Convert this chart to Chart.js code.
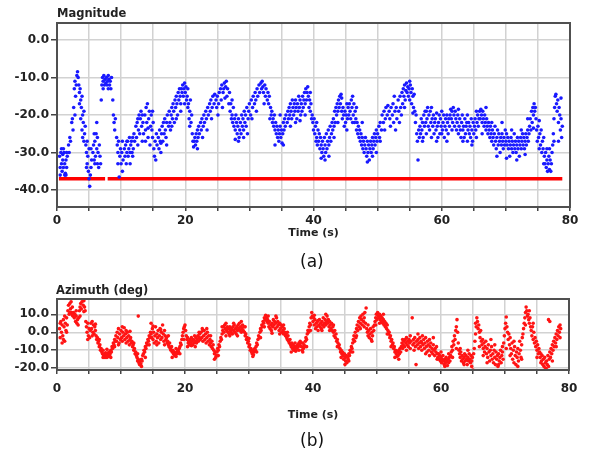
<!DOCTYPE html>
<html>
<head>
<meta charset="utf-8">
<script src="https://cdn.jsdelivr.net/npm/chart.js@4.4.0/dist/chart.umd.min.js"></script>
<style>
body { margin:0; background:#fff; width:591px; height:454px; position:relative; overflow:hidden; font-family:"DejaVu Sans", sans-serif; }
canvas { position:absolute; left:0; }
#magChart { top:0; }
#aziChart { top:270px; }
.lbl { position:absolute; font-weight:bold; font-size:11.5px; color:#222; line-height:1; }
.cap { position:absolute; font-size:17px; color:#111; line-height:1; }
</style>
</head>
<body>
<canvas id="magChart" width="591" height="245"></canvas>
<canvas id="aziChart" width="591" height="160"></canvas>
<div class="lbl" style="left:57px;top:8px">Magnitude</div>
<div class="lbl" style="left:56px;top:285px">Azimuth (deg)</div>
<div class="cap" style="left:300px;top:253px">(a)</div>
<div class="cap" style="left:300px;top:432px">(b)</div>
<script>
// time axis (s)
let timeLabels = [0, 20, 40, 60, 80];
let magTicks = [0, -10, -20, -30, -40];
let aziTicks = [10, 0, -10, -20];

// red reference level on the magnitude plot
let thresholdLevel = -37;
let thresholdSpans = [[0.3, 7.5], [7.9, 78.8]];

// magnitude samples [time, value]
let magPoints = [
  [0.4,-31],[0.5,-34],[0.6,-30],[0.7,-33],[0.8,-35],[0.9,-32],[1.0,-34],[1.1,-30],[1.2,-33],[1.3,-35.5],[1.4,-32],[1.5,-34],[1.6,-31],[0.7,-29],[1.2,-36],[1.5,-30],
  [1.8,-28],[1.9,-30],[2.0,-26],[2.1,-27],[2.3,-22],[2.4,-21],[2.5,-24],
  [2.6,-18],[2.7,-13],[2.8,-11],[2.9,-15],[3.0,-12],[3.1,-9.5],[3.2,-8.5],[3.3,-10],[3.4,-12],[2.8,-20],
  [3.5,-14],[3.6,-13],[3.7,-16],[3.8,-18],[3.9,-15],[4.0,-20],[4.1,-22],[4.2,-19],[4.3,-25],[4.4,-23],[3.7,-21],[4.0,-26],
  [4.5,-28],[4.6,-30],[4.7,-33],[4.8,-31],[4.9,-35],[5.0,-37],[5.1,-39],[5.2,-36],[5.3,-34],[5.4,-32],[4.7,-27],[5.0,-29],
  [5.6,-30],[5.7,-28],[5.8,-32],[5.9,-27],[6.0,-31],[6.1,-25],[6.2,-29],[6.3,-33],[6.4,-30],[6.5,-34],[6.6,-28],[5.8,-25],[6.2,-22],
  [6.8,-33],[6.9,-16],[7.0,-12],[7.1,-10],[7.2,-11],[7.3,-9.5],[7.4,-12],[7.5,-10.5],[7.6,-11.5],[7.7,-10],[7.8,-12],[7.9,-11],[8.0,-9.5],[8.1,-10.5],[8.2,-12],[8.3,-11],[8.4,-13],[8.5,-10],[7.2,-13],[8.0,-13],
  [8.7,-16],[8.8,-20],[8.9,-22],[9.0,-24],[9.1,-21],
  [9.3,-26],[9.4,-28],[9.5,-30],[9.6,-27],[9.7,-36.5],[9.8,-31],[9.9,-29],[10.0,-33],[10.1,-30],[10.2,-27],[10.3,-32],
  [10.5,-29],[10.6,-31],[10.7,-28],[10.8,-33],[10.9,-30],[11.0,-27],[11.1,-31],[11.2,-29],[11.3,-26],[11.4,-30],[11.5,-28],[11.6,-27],[11.7,-30],[11.8,-26],[11.9,-29],[12.0,-25],[12.1,-27],
  [12.3,-23],[12.4,-26],[12.5,-22],[12.6,-28],[12.7,-24],[12.8,-20],[12.9,-25],[13.0,-21],[13.1,-19],[13.2,-23],[13.3,-27],[13.4,-22],[13.5,-25],
  [13.7,-20],[13.8,-24],[13.9,-18],[14.0,-22],[14.1,-17],[14.2,-26],[14.3,-21],[14.4,-19],[14.5,-28],[14.6,-23],[14.7,-20],[14.8,-24],
  [14.9,-19],[15.0,-22],[15.1,-29],[15.2,-31],[15.3,-27],[15.4,-32],[15.5,-25],[15.6,-28],
  [15.8,-26],[15.9,-29],[16.0,-24],[16.1,-27],[16.2,-30],[16.3,-25],[16.4,-23],[16.5,-27],[16.6,-22],[16.7,-25],[16.8,-21],[16.9,-24],[17.0,-26],[17.1,-22],[17.2,-20],
  [17.4,-23],[17.5,-19],[17.6,-22],[17.7,-24],[17.8,-20],[17.9,-18],[18.0,-21],[18.1,-17],[18.2,-19],[18.3,-22],[18.4,-16],[18.5,-18],[18.6,-15],[18.7,-17],[18.8,-20],[18.9,-14],[19.0,-16],[19.1,-13],[19.2,-15],[19.3,-17],[19.4,-13],[19.5,-14],[19.6,-12],[19.7,-15],[19.8,-13],[19.9,-11.5],[20.0,-14],[20.1,-12.5],[20.2,-16],
  [20.3,-15],[20.4,-18],[20.5,-17],[20.6,-21],[20.7,-19],[20.8,-16],[20.9,-22],[21.0,-20],[21.1,-25],[21.2,-27],[21.3,-28.5],
  [21.4,-27],[21.5,-26],[21.6,-28],[21.7,-25],[21.8,-27],[21.9,-24],[22.0,-26],[22.1,-23],[22.2,-25],[22.4,-22],[22.5,-24],[22.6,-21],[22.8,-23],[22.9,-20],[23.0,-22],[23.2,-19],[23.3,-21],[23.5,-18],[23.6,-20],[23.8,-17],[23.9,-19],
  [24.0,-16],[24.2,-18],[24.3,-15],[24.5,-17],[24.6,-14.5],[24.8,-16],[24.9,-18],[25.0,-15],[25.2,-17],[25.3,-14],
  [25.5,-13],[25.6,-16],[25.7,-12],[25.9,-14],[26.0,-13],[26.1,-11.5],[26.3,-12.5],[26.4,-11],[26.5,-15],[26.6,-13],[26.8,-17],[26.9,-14],
  [27.0,-19],[27.1,-17],[27.2,-21],[27.3,-20],[27.4,-22],[27.5,-18],[27.6,-23],[27.7,-21],[27.8,-24],[27.9,-20],[28.0,-22],[28.1,-25],[28.2,-23],[28.3,-21],[28.4,-26],[28.5,-24],[28.6,-22],[28.7,-25],[28.8,-20],[28.9,-23],[29.0,-21],[29.1,-24],[29.2,-19],[29.3,-22],[29.4,-20],[29.5,-23],[29.6,-18],[29.8,-21],[29.9,-19],
  [30.0,-17],[30.2,-20],[30.3,-16],[30.5,-18],[30.6,-15],[30.8,-17],[30.9,-14],[31.0,-16],[31.2,-13],[31.3,-15],[31.5,-12],[31.6,-14],
  [31.8,-11.5],[31.9,-13],[32.0,-11],[32.1,-12.5],[32.2,-14],[32.4,-12],[32.5,-15],[32.6,-13],[32.8,-16],[32.9,-14],[33.0,-17],[33.1,-15],
  [33.3,-18],[33.4,-20],[33.5,-19],[33.6,-22],[33.7,-21],[33.8,-23],[33.9,-20],[34.0,-24],[34.1,-22],[34.2,-25],[34.3,-23],[34.4,-26],[34.5,-24],[34.6,-27],[34.7,-25],[34.8,-23],[34.9,-26],[35.0,-24],[35.1,-27.5],[35.2,-25],[35.3,-22],[35.4,-24],[35.5,-21],[35.6,-23],[35.7,-20],
  [35.9,-22],[36.0,-19],[36.1,-21],[36.2,-18],[36.3,-20],[36.4,-17],[36.5,-19],[36.6,-21],[36.7,-16],[36.8,-18],[36.9,-20],[37.0,-17],[37.1,-19],[37.2,-16],[37.3,-18],[37.4,-21],[37.5,-17],[37.6,-19],[37.7,-15],[37.8,-18],[37.9,-16],[38.0,-20],[38.1,-17],[38.2,-19],[38.3,-15],[38.4,-18],[38.5,-16],[38.6,-14],[38.7,-17],[38.8,-13],[38.9,-16],[39.0,-14],[39.1,-12.5],[39.2,-15],[39.3,-18],[39.4,-16],
  [39.5,-19],[39.6,-17],[39.7,-21],[39.8,-20],[39.9,-22],[40.0,-24],[40.1,-21],[40.2,-25],[40.3,-23],[40.4,-27],[40.5,-26],[40.6,-28],[40.7,-24],[40.8,-27],[40.9,-25],[41.0,-29],[41.1,-26],[41.2,-28],
  [41.3,-30],[41.4,-27],[41.5,-29],[41.6,-31],[41.7,-26],[41.8,-28],[41.9,-30],[42.0,-25],[42.1,-29],[42.2,-27],[42.3,-24],[42.4,-28],[42.5,-26],[42.6,-23],[42.7,-27],[42.8,-25],[41.8,-32],
  [42.9,-22],[43.0,-24],[43.1,-21],[43.2,-23],[43.3,-19],[43.4,-22],[43.5,-18],[43.6,-20],[43.7,-17],[43.8,-19],[43.9,-16],[44.0,-18],[44.1,-15],[44.2,-17],[44.3,-14.5],[44.4,-19],
  [44.5,-21],[44.6,-18],[44.7,-20],[44.8,-23],[44.9,-19],[45.0,-22],[45.1,-20],[45.2,-24],[45.3,-21],[45.4,-18],[45.5,-20],[45.6,-17],[45.7,-19],[45.8,-21],[45.9,-16],[46.0,-18],[46.1,-15],[46.2,-20],[46.3,-17],[46.4,-22],[46.5,-19],[46.6,-21],[46.7,-24],[46.8,-22],
  [46.9,-25],[47.0,-23],[47.1,-26],[47.2,-24],[47.3,-27],[47.4,-25],[47.5,-28],[47.6,-26],[47.7,-29],[47.8,-27],[47.9,-30],[48.0,-28],[48.1,-26],[48.2,-29],[48.3,-31],[48.4,-27],[48.5,-30],[48.6,-28],[48.7,-32],[48.8,-29],[48.9,-27],[49.0,-30],[49.1,-28],[49.2,-26],[49.3,-29],[49.4,-27],[49.5,-25],[49.6,-28],[49.7,-26],[49.8,-24],[49.9,-27],
  [50.0,-25],[50.2,-23],[50.3,-26],[50.4,-22],[50.6,-24],[50.7,-20],[50.9,-22],[51.0,-19],[51.2,-21],[51.3,-18],[51.5,-20],[51.6,-17.5],[51.8,-19],[51.9,-21],[52.1,-18],
  [52.3,-20],[52.4,-17],[52.5,-22],[52.7,-19],[52.8,-24],[52.9,-18],[53.0,-21],[53.2,-16],[53.3,-19],[53.5,-15],[53.6,-18],[53.7,-20],
  [53.8,-14],[53.9,-17],[54.0,-13],[54.1,-15],[54.2,-12],[54.3,-16],[54.4,-13.5],[54.5,-11.5],[54.6,-14],[54.7,-12.5],[54.8,-15],[54.9,-13],[55.0,-16],[55.1,-12],[55.2,-14],[55.3,-17],[55.4,-13],[55.5,-15],[55.6,-18],[55.7,-14.5],
  [55.8,-19],[55.9,-22],[56.0,-20],[56.1,-25],[56.2,-27],[56.3,-32],[56.4,-24],[56.5,-26],
  [56.6,-23],[56.7,-25],[56.8,-21],[56.9,-24],[57.0,-22],[57.1,-26],[57.2,-20],[57.3,-23],[57.4,-19],[57.5,-22],[57.6,-25],[57.7,-21],[57.8,-18],[57.9,-23],[58.0,-20],[58.1,-24],[58.2,-19],[58.3,-22],[58.4,-26],[58.5,-21],[58.6,-23],[58.7,-20],[58.8,-25],[58.9,-22],
  [59.0,-21],[59.1,-24],[59.2,-19.5],[59.3,-23],[59.4,-26],[59.5,-22],[59.6,-20],[59.7,-25],[59.8,-21],[59.9,-23],[60.0,-19],[60.1,-24],[60.2,-22],[60.3,-20],[60.4,-26],[60.5,-23],[60.6,-21],[60.7,-24],[60.8,-20],[60.9,-22],[61.0,-25],[61.1,-21],[61.2,-23],
  [61.3,-20],[61.4,-18.5],[61.5,-21],[61.6,-19],[61.7,-22],[61.8,-18],[61.9,-20],[62.0,-23],[62.1,-19],[62.2,-21],
  [62.3,-24],[62.4,-22],[62.5,-20],[62.6,-25],[62.7,-23],[62.8,-21],[62.9,-24],[63.0,-26],[63.1,-22],[63.2,-20],[63.3,-24],[63.4,-23],[63.5,-26],[63.6,-21],[63.7,-25],[63.8,-23],[63.9,-22],[64.0,-27],[64.1,-24],[64.2,-22],[64.3,-25],[64.4,-23],[64.5,-26],[64.6,-21],[64.7,-24],[64.8,-27],[64.9,-22],[65.0,-25],[65.1,-23],[65.2,-21],[65.3,-24],[65.4,-26],[65.5,-22],[65.6,-20],[65.7,-23],[65.8,-21],
  [65.9,-19],[66.0,-21],[66.1,-18.5],[66.2,-20],[66.3,-22],[66.4,-19],[66.5,-21],[66.6,-23],[66.7,-20],[66.8,-22],[66.9,-24],[67.0,-21],[67.1,-23],[67.2,-25],[67.3,-22],[67.4,-24],
  [67.5,-26],[67.6,-23],[67.7,-25],[67.8,-27],[67.9,-24],[68.0,-26],[68.1,-28],[68.2,-25],[68.3,-23],[68.4,-27],[68.5,-29],[68.6,-26],[68.7,-24],[68.8,-28],[68.9,-25],[69.0,-27],[69.1,-30],[69.2,-26],[69.3,-28],[69.4,-25],[69.5,-27],[69.6,-29],[69.7,-26],[69.8,-28],[69.9,-24],[70.0,-27],
  [70.1,-25],[70.2,-28],[70.3,-26],[70.4,-29],[70.5,-27],[70.6,-31],[70.7,-28],[70.8,-26],[70.9,-29],[71.0,-27],[71.1,-30],[71.2,-28],[71.3,-25],[71.4,-29],[71.5,-27],[71.6,-30],[71.7,-28],[71.8,-26],[71.9,-29],[72.0,-27],[72.1,-31],[72.2,-28],[72.3,-26],[72.4,-29],[72.5,-27],[72.6,-25],[72.7,-28],[72.8,-26],[72.9,-29],[73.0,-27],[73.1,-25],[73.2,-28],[73.3,-26],[73.4,-24],[73.5,-27],[73.6,-25],
  [73.7,-23],[73.8,-21],[73.9,-24],[74.0,-19],[74.1,-22],[74.2,-18],[74.3,-20],[74.4,-17],[74.5,-19],[74.6,-18],[74.7,-21],
  [74.8,-24],[74.9,-27],[75.0,-23],[75.1,-26],[75.2,-29],[75.3,-25],[75.4,-28],[75.5,-24],[75.6,-30],[75.7,-27],[75.8,-29],[75.9,-26],
  [76.0,-31],[76.1,-33],[76.2,-30],[76.3,-34],[76.4,-32],[76.5,-35],[76.6,-33],[76.7,-31],[76.8,-34.5],[76.9,-32],[77.0,-35],[77.1,-33],[77.2,-30],
  [77.3,-28],[77.4,-25],[77.5,-21],[77.6,-18],[77.7,-15],[77.8,-14.5],[77.9,-17],[78.0,-19],[78.1,-16],[78.2,-22],[78.3,-18],[78.4,-20],[78.5,-24],[78.6,-21],[78.7,-26],[78.8,-23]
];

// loose magnitude samples that widen the band
let magScatter = [
  [0.5,-36],[1.0,-29],[1.4,-36],[0.9,-30.5],[3.5,-17],[3.9,-24],[4.2,-27],[4.6,-34],[5.3,-29],[5.9,-33],[6.3,-26],[6.7,-31],
  [9.5,-33],[10.2,-35],[10.9,-27],[11.4,-33],[11.8,-31],[12.6,-21],[13.3,-20],[13.8,-27],[14.2,-23.5],[14.9,-26],
  [16.2,-27.5],[17.1,-28],[17.9,-23],[18.6,-21],[19.3,-19],[19.9,-17],[20.4,-13],[20.7,-23],[21.9,-29],[22.7,-26],[23.4,-24],[24.1,-21],
  [25.1,-20],[25.8,-18],[26.2,-15.5],[27.3,-16],[27.8,-26.5],[28.3,-27],[29.1,-26],[29.7,-25],
  [30.4,-21],[31.1,-19],[32.3,-17],[33.2,-21],[34.0,-28],[34.8,-20],[35.3,-28],[36.4,-23],[37.2,-22],[37.9,-21.5],[38.7,-20],[39.5,-14],
  [40.5,-22],[41.2,-31.5],[42.4,-31],[43.2,-26],[43.8,-22],[44.4,-15.5],[45.2,-17],[46.1,-22],[46.7,-18],[47.6,-22],[48.4,-32.5],[49.2,-31],[49.8,-30],
  [50.4,-27],[51.1,-24],[52.0,-23],[52.6,-15],[53.4,-22],[54.2,-18],[55.0,-11],[55.5,-19.5],
  [57.0,-27],[57.6,-19],[58.4,-18],[59.2,-27],[60.0,-25],[60.8,-27],[61.6,-24],[62.6,-18.5],[63.3,-27],[64.0,-20],[64.7,-28],[65.4,-19],[66.3,-25],[66.9,-18],
  [67.8,-22],[68.6,-31],[69.4,-22],[70.1,-31.5],[70.9,-24],[71.7,-32],[72.4,-24],[73.0,-30.5],[73.4,-21],
  [74.3,-23.5],[75.2,-21.5],[75.9,-33],[76.4,-29],[76.8,-29],[77.5,-27],[78.2,-27],[78.6,-15.5]
];

// azimuth samples [time, degrees]
let aziPoints = [
  [0.4,2],[0.5,-3],[0.6,6],[0.7,0],[0.8,4],[0.9,-2],[1.0,7],[1.1,3],[1.2,-5],[1.3,5],[1.4,1],[1.5,8],[1.6,4],[0.8,-6],[1.2,9],
  [1.7,12],[1.8,15],[1.9,10],[2.0,16],[2.1,13],[2.2,17],[2.3,11],[2.4,14],[2.5,9],
  [2.6,11],[2.7,8],[2.8,10],[2.9,6],[3.0,9],[3.1,5],[3.2,7],[3.3,4],
  [3.4,8],[3.5,12],[3.6,14],[3.7,16],[3.8,13],[3.9,17],[4.0,18.5],[4.1,15],[4.2,17.5],[4.3,14],[4.4,12],
  [4.5,6],[4.6,3],[4.7,0],[4.8,5],[4.9,-2],[5.0,2],[5.1,-3],[5.2,1],
  [5.3,5],[5.4,2],[5.5,6],[5.6,0],[5.7,4],[5.8,-1],[5.9,3],[6.0,1],
  [6.1,-2],[6.2,-4],[6.3,-3],[6.4,-6],[6.5,-5],[6.6,-8],[6.7,-7],[6.8,-10],[6.9,-9],[7.0,-11],[7.1,-12],[7.2,-10],[7.3,-13],
  [7.4,-12],[7.5,-14],[7.6,-11.5],[7.7,-13],[7.8,-14],[7.9,-12],[8.0,-13.5],[8.1,-11],[8.2,-13],[8.3,-12],
  [8.4,-10],[8.5,-11],[8.6,-8],[8.7,-9],[8.8,-6],[8.9,-7],[9.0,-4],[9.1,-5],
  [9.2,-2],[9.3,-5],[9.4,0],[9.5,-3],[9.6,2],[9.7,-6],[9.8,-1],[9.9,-4],[10.0,1],[10.1,-3],[10.2,-5],[10.3,0],[10.4,-2],[10.5,2.5],[10.6,-4],[10.7,-1],[10.8,-6],[10.9,-3],[11.0,0],[11.1,-5],[11.2,-2],[11.3,-7],[11.4,-4],
  [11.5,-3],[11.6,-6],[11.7,-5],[11.8,-8],[11.9,-7],[12.0,-10],[12.1,-9],[12.2,-12],[12.3,-11],[12.4,-13],
  [12.5,-14],[12.6,-16],[12.7,-15],[12.8,-17],[12.9,-18],[13.0,-16],[13.1,-17.5],[13.2,-15],[13.3,-16],[13.4,-13],[12.7,9],
  [13.5,-12],[13.6,-10],[13.7,-11],[13.8,-8],[13.9,-9],[14.0,-6],[14.1,-7],[14.2,-4],[14.3,-5],[14.4,-2],[14.5,-3],[14.6,0],[14.7,-1],[14.7,5],
  [14.8,-3],[14.9,2],[15.0,-4],[15.1,0],[15.2,-6],[15.3,-2],[15.4,3],[15.5,-5],[15.6,-1],[15.7,-3],[15.8,1],[15.9,-6],[16.0,-2],[16.1,2],[16.2,-4],[16.3,0],[16.4,-3],[16.5,4],[16.6,-1],[16.7,-5],[16.8,1],[16.9,-2],[17.0,-4],
  [17.1,-3],[17.2,-6],[17.3,-5],[17.4,-7],[17.5,-8],[17.6,-6],[17.7,-9],[17.8,-10],[17.9,-8],[18.0,-11],[18.1,-10],[18.2,-12],[18.3,-11],[18.4,-13],[18.5,-12],[18.6,-13.5],[18.7,-11],[18.8,-12],[18.9,-10],[19.0,-11],[19.1,-9],
  [19.2,-8],[19.3,-6],[19.4,-7],[19.5,-4],[19.6,-2],[19.7,0],[19.8,2],[19.9,3],[20.0,4],[20.1,1],
  [20.2,-2],[20.3,-4],[20.4,-3],[20.5,-6],[20.6,-5],[20.7,-7],[20.8,-4],[20.9,-6],[21.0,-3],[21.1,-5],[21.2,-7],[21.3,-4],[21.4,-6],[21.5,-2],[21.6,-5],[21.7,-3],[21.8,-6],[21.9,-4],[22.0,-2],[22.1,-5],[22.2,-3],
  [22.3,-1],[22.4,-4],[22.5,0],[22.6,-3],[22.7,2],[22.8,-5],[22.9,-2],[23.0,1],[23.1,-4],[23.2,-1],[23.3,-6],[23.4,-3],[23.5,0],[23.6,-5],[23.7,-2],[23.8,-7],[23.9,-4],[24.0,-6],[24.1,-8],[24.2,-5],[24.3,-9],[24.4,-7],[24.5,-10],[24.6,-12],[24.7,-11],[24.8,-14],[24.9,-13],
  [25.0,-11],[25.1,-9],[25.2,-10],[25.3,-7],[25.4,-8],[25.5,-5],[25.6,-3],[25.7,-4],[25.8,-1],[25.9,1],[26.0,3],[26.1,0],[26.2,4],[26.3,2],[26.4,5],[26.5,1],[26.6,3],[26.7,0],
  [26.8,2],[26.9,-1],[27.0,3],[27.1,1],[27.2,0],[27.3,2],[27.4,-1],[27.5,3],[27.6,1],[27.7,4],[27.8,0],[27.9,2],[28.0,-1],[28.1,3],[28.2,1],[28.3,4],[28.4,2],[28.5,5],[28.6,1],[28.7,3],[28.8,6],[28.9,2],[29.0,4],[29.1,1],[29.2,3],
  [29.3,0],[29.4,-2],[29.5,-1],[29.6,-4],[29.7,-3],[29.8,-6],[29.9,-5],[30.0,-8],[30.1,-7],[30.2,-10],[30.3,-9],[30.4,-11],[30.5,-12],[30.6,-10],[30.7,-12.5],[30.8,-11],[30.9,-9],[31.0,-10],[31.1,-8],[31.2,-6],[31.3,-7],
  [31.4,-4],[31.5,-2],[31.6,-3],[31.7,0],[31.8,2],[31.9,1],[32.0,4],[32.1,3],[32.2,6],[32.3,5],[32.4,8],[32.5,7],[32.6,9.5],[32.7,8],[32.8,6],[32.9,7],
  [33.0,5],[33.1,3],[33.2,6],[33.3,2],[33.4,4],[33.5,1],[33.6,5],[33.7,3],[33.8,7],[33.9,4],[34.0,6],[34.1,2],[34.2,5],[34.3,8],[34.4,3],[34.5,6],[34.6,4],[34.7,1],[34.8,5],[34.9,2],[35.0,4],[35.1,0],[35.2,3],[35.3,1],[35.4,-1],[35.5,2],
  [35.6,0],[35.7,-2],[35.8,-1],[35.9,-3],[36.0,-4],[36.1,-2],[36.2,-5],[36.3,-6],[36.4,-4],[36.5,-7],[36.6,-8],[36.7,-6],[36.8,-9],[36.9,-7],[37.0,-10],[37.1,-8],[37.2,-9],[37.3,-10.5],[37.4,-8],[37.5,-9],[37.6,-7],[37.7,-8],[37.8,-6],[37.9,-7],[38.0,-5],[38.1,-6],
  [38.2,-8],[38.3,-10],[38.4,-11],[38.5,-9],[38.6,-7],[38.7,-8],[38.8,-5],[38.9,-3],[39.0,-4],[39.1,-1],[39.2,1],[39.3,0],[39.4,3],[39.5,5],[39.6,4],[39.7,8],[39.8,11],
  [39.9,9],[40.0,6],[40.1,8],[40.2,4],[40.3,7],[40.4,2],[40.5,5],[40.6,3],[40.7,6],[40.8,1],[40.9,4],[41.0,7],[41.1,3],[41.2,5],[41.3,2],[41.4,6],[41.5,4],[41.6,8],[41.7,3],[41.8,5],[41.9,7],[42.0,4],[42.1,6],[42.2,9],[42.3,5],[42.4,7],[42.5,3],[42.6,6],[42.7,4],[42.8,2],[42.9,5],[43.0,1],[43.1,3],
  [43.2,0],[43.3,-2],[43.4,1],[43.5,-3],[43.6,-1],[43.7,-5],[43.8,-4],[43.9,-6],[44.0,-8],[44.1,-7],[44.2,-9],[44.3,-11],[44.4,-10],[44.5,-12],[44.6,-11],
  [44.7,-13],[44.8,-15],[44.9,-12],[45.0,-14],[45.1,-16],[45.2,-13],[45.3,-17],[45.4,-14],[45.5,-15],[45.6,-12],[45.7,-13],[45.8,-10],[45.9,-11],[46.0,-8],[46.1,-9],[46.2,-6],[46.3,-4],
  [46.4,-2],[46.5,-5],[46.6,0],[46.7,-3],[46.8,2],[46.9,4],[47.0,1],[47.1,6],[47.2,3],[47.3,8],[47.4,5],[47.5,9],[47.6,7],[47.7,4],[47.8,10],[47.9,6],[48.0,3],[48.1,11],[48.2,5],[48.3,13.5],[48.4,2],
  [48.5,0],[48.6,-2],[48.7,1],[48.8,-3],[48.9,-1],[49.0,2],[49.1,-4],[49.2,0],[49.3,-2],[49.4,3],[49.5,1],[49.6,4],[49.7,6],[49.8,8],[49.9,10],[50.0,7],
  [50.1,11],[50.2,9],[50.3,8],[50.4,10],[50.5,7],[50.6,9],[50.7,6],[50.8,8],[50.9,5],[51.0,7],[51.1,4],[51.2,6],[51.3,3],[51.4,5],[51.5,2],[51.6,4],
  [51.7,1],[51.8,-1],[51.9,0],[52.0,-3],[52.1,-2],[52.2,-5],[52.3,-4],[52.4,-7],[52.5,-6],[52.6,-9],[52.7,-8],[52.8,-11],[52.9,-10],[53.0,-12],[53.1,-13.5],[53.2,-11],[53.3,-13],[53.4,-10],[53.5,-12],[53.6,-9],[53.7,-11],
  [53.8,-8],[53.9,-6],[54.0,-9],[54.1,-7],[54.2,-5],[54.3,-8],[54.4,-4],[54.5,-6],[54.6,-3],[54.7,-7],[54.8,-5],[54.9,-8],[55.0,-4],[55.1,-6],[55.2,-9],[55.3,-5],
  [55.5,8],[55.6,-7],[55.7,-4],[55.8,-6],[55.9,-3],[56.0,-8],[56.1,-18],[56.2,-5],[56.3,-7],
  [56.4,-4],[56.5,-9],[56.6,-6],[56.7,-3],[56.8,-8],[56.9,-5],[57.0,-10],[57.1,-2],[57.2,-7],[57.3,-4],[57.4,-9],[57.5,-6],[57.6,-3],[57.7,-8],[57.8,-11],[57.9,-5],[58.0,-7],[58.1,-10],[58.2,-4],[58.3,-8],[58.4,-6],[58.5,-11],[58.6,-9],[58.7,-12],[58.8,-7],[58.9,-10],[59.0,-13],[59.1,-9],[59.2,-11],[59.3,-8],[59.4,-12],
  [59.5,-14],[59.6,-12],[59.7,-15],[59.8,-13],[59.9,-16],[60.0,-14],[60.1,-17],[60.2,-15],[60.3,-13],[60.4,-16],[60.5,-18],[60.6,-15],[60.7,-17],[60.8,-14],[60.9,-16],[61.0,-18.5],[61.1,-15],[61.2,-17],[61.3,-14],[61.4,-16],
  [61.5,-13],[61.6,-11],[61.7,-8],[61.8,-10],[61.9,-5],[62.0,-7],[62.1,-2],[62.2,-4],[62.3,1],[62.4,3],[62.5,7],[62.6,0],[62.7,-6],[62.8,-10],
  [62.9,-12],[63.0,-14],[63.1,-11],[63.2,-16],[63.3,-13],[63.4,-15],[63.5,-17],[63.6,-14],[63.7,-12],[63.8,-16],[63.9,-13],[64.0,-15],[64.1,-18],[64.2,-14],[64.3,-16],[64.4,-12],[64.5,-15],[64.6,-17],[64.7,-13],[64.8,-16],[64.9,-14],[65.0,-21],[65.1,-12],
  [65.2,-9],[65.3,-5],[65.4,-1],[65.5,3],[65.6,8],[65.7,6],[65.8,2],[65.9,4],[66.0,0],[66.1,-3],[66.2,1],[66.3,-5],
  [66.4,-7],[66.5,-4],[66.6,-9],[66.7,-6],[66.8,-11],[66.9,-8],[67.0,-5],[67.1,-12],[67.2,-9],[67.3,-14],[67.4,-7],[67.5,-11],[67.6,-16],[67.7,-10],[67.8,-13],[67.9,-8],[68.0,-15],[68.1,-12],[68.2,-17],[68.3,-10],[68.4,-14],[68.5,-18],[68.6,-11],[68.7,-15],[68.8,-13],[68.9,-19],[69.0,-12],[69.1,-16],[69.2,-14],[69.3,-10],[69.4,-17],[69.5,-13],[69.6,-11],[69.7,-15],
  [69.8,-6],[69.9,-2],[70.0,2],[70.1,5],[70.2,8.5],[70.3,3],[70.4,0],[70.5,-4],[70.6,-1],[70.7,-7],[70.8,-3],
  [70.9,-9],[71.0,-12],[71.1,-6],[71.2,-15],[71.3,-10],[71.4,-17],[71.5,-8],[71.6,-13],[71.7,-18],[71.8,-11],[71.9,-14],[72.0,-9],[72.1,-16],[72.2,-12],[72.3,-5],[72.4,-10],[72.5,-14],[72.6,-7],[72.7,-3],[72.8,-1],[72.9,2],
  [73.0,5],[73.1,8],[73.2,11],[73.3,14],[73.4,12],[73.5,9],[73.6,10],[73.7,7],[73.8,5],[73.9,8],[74.0,3],
  [74.1,1],[74.2,-2],[74.3,3],[74.4,-4],[74.5,0],[74.6,-6],[74.7,-3],[74.8,-8],[74.9,-5],[75.0,-10],[75.1,-7],[75.2,-12],[75.3,-9],[75.4,-11],[75.5,-14],
  [75.6,-12],[75.7,-16],[75.8,-13],[75.9,-18],[76.0,-15],[76.1,-19],[76.2,-14],[76.3,-17],[76.4,-20],[76.5,-16],[76.6,-18],[76.7,-13],[76.8,7],[76.9,-15],[77.0,-11],[77.1,-14],[77.2,-9],[77.3,-12],[77.4,-7],[77.5,-10],[77.6,-5],
  [77.7,-8],[77.8,-3],[77.9,-6],[78.0,-1],[78.1,-4],[78.2,1],[78.3,-2],[78.4,3],[78.5,0],[78.6,4],[78.7,2]
];

// loose azimuth samples that widen the band
let aziScatter = [
  [0.5,5],[1.0,-4],[1.5,0],[2.0,11],[2.4,9.5],[3.0,12],[3.6,9],[4.2,11.5],[4.8,-4],
  [5.5,-2],[6.0,4.5],[6.6,-4],[7.2,-14],[7.8,-9.5],[8.4,-14],[9.0,-8],
  [9.6,-7],[10.2,3],[10.8,1],[11.4,0.5],[12.0,-6],[12.6,-12],[13.2,-19],[13.8,-14],
  [14.4,-7],[15.0,3.5],[15.6,-7],[16.2,1.5],[16.8,-7],[17.4,-2],[18.0,-14],[18.6,-9],[19.2,-12],[19.8,-4],
  [20.4,-8],[21.0,-7.5],[21.6,-8],[22.2,0],[22.8,1],[23.4,2],[24.0,-2],[24.6,-15],[25.2,-13],[25.8,3],
  [26.4,-2],[27.0,-2],[27.6,5],[28.2,-2],[28.8,0],[29.4,3],[30.0,-3.5],[30.6,-13.5],[31.2,-11],[31.8,-3],
  [32.4,3],[33.0,9],[33.6,-0.5],[34.2,9],[34.8,-1],[35.4,4],[36.0,0],[36.6,-11],[37.2,-6],[37.8,-10],
  [38.4,-6],[39.0,-8],[39.6,1],[40.2,9.5],[40.8,6.5],[41.4,1],[42.0,10],[42.6,1],[43.2,4],[43.8,-8],
  [44.4,-14],[45.0,-18],[45.6,-16],[46.2,-11],[46.8,-2],[47.4,2],[48.0,8],[48.6,4],[49.2,-5],[49.8,4],
  [50.4,5],[51.0,10],[51.6,-1],[52.2,-8],[52.8,-14],[53.4,-15],[54.0,-4],[54.6,-10],[55.2,-2],[55.8,-10],
  [56.4,-1],[57.0,-6],[57.6,-12],[58.2,-13],[58.8,-3],[59.4,-15],[60.0,-11],[60.6,-19],[61.2,-12],[61.8,-14],
  [62.4,-9],[63.0,-9],[63.6,-18],[64.2,-10],[64.8,-19],[65.4,5],[66.0,-8],[66.6,-13],[67.2,-17],[67.8,-4],
  [68.4,-7],[69.0,-18],[69.6,-8],[70.2,-9],[70.8,-13],[71.4,-5],[72.0,-19],[72.6,-15],[73.2,4],[73.8,12],
  [74.4,5],[75.0,-14],[75.6,-17],[76.2,-21],[76.8,-19],[77.4,-16],[78.0,-8],[78.6,-3],[77.0,6]
];

let toXY = pts => pts.map(p => ({ x: p[0], y: p[1] }));

// the level line is drawn as separate spans with a null between them
let thresholdData = [];
thresholdSpans.forEach((s, i) => {
  if (i > 0) thresholdData.push({ x: (thresholdSpans[i - 1][1] + s[0]) / 2, y: null });
  thresholdData.push({ x: s[0], y: thresholdLevel }, { x: s[1], y: thresholdLevel });
});

let tickFont = { family: 'DejaVu Sans', weight: 'bold', size: 12 };
let titleFont = { family: 'DejaVu Sans', weight: 'bold', size: 11 };

// dark frame round the plot area
const frame = {
  id: 'frame',
  afterDatasetsDraw(chart) {
    let a = chart.chartArea, ctx = chart.ctx;
    ctx.save();
    ctx.strokeStyle = '#505050';
    ctx.lineWidth = 2;
    ctx.strokeRect(a.left, a.top, a.right - a.left, a.bottom - a.top);
    ctx.restore();
  }
};

function buildChart(id, datasets, yMin, yMax, yTicks, box) {
  new Chart(document.getElementById(id), {
    type: 'scatter',
    data: { datasets: datasets },
    options: {
      responsive: false,
      animation: false,
      layout: { padding: { left: 0, right: 591 - box.right, top: box.top, bottom: 0 } },
      plugins: { legend: { display: false }, tooltip: { enabled: false } },
      scales: {
        x: {
          type: 'linear', min: 0, max: 80,
          afterFit: s => { s.height = box.canvasH - box.bottom; },
          ticks: {
            stepSize: 5, autoSkip: false, maxRotation: 0, padding: box.tickPad,
            color: '#222', font: tickFont,
            callback: v => timeLabels.includes(v) ? String(v) : ''
          },
          grid: { color: '#d2d2d2', lineWidth: 1.5, tickLength: 4, tickColor: '#444' },
          border: { color: '#444', width: 2 },
          title: { display: true, text: 'Time (s)', color: '#222', font: titleFont, padding: { top: 0, bottom: box.titlePad } }
        },
        y: {
          min: yMin, max: yMax,
          afterFit: s => { s.width = box.left; },
          ticks: {
            stepSize: 10, includeBounds: false, padding: 2,
            color: '#222', font: tickFont,
            callback: v => yTicks.includes(v) ? v.toFixed(1) : ''
          },
          grid: { color: '#d2d2d2', lineWidth: 1.5, tickLength: 6, tickColor: '#444' },
          border: { color: '#444', width: 2 }
        }
      }
    },
    plugins: [frame]
  });
}

buildChart('magChart', [
  { data: toXY(magPoints.concat(magScatter)), pointRadius: 1.8, pointBackgroundColor: 'rgb(25,25,255)', pointBorderWidth: 0 },
  { type: 'line', data: thresholdData, borderColor: 'rgb(255,0,0)', borderWidth: 3.5, pointRadius: 0, spanGaps: false }
], -44.5, 4.5, magTicks, { left: 57, right: 570, top: 23, bottom: 207, canvasH: 245, tickPad: 3, titlePad: 5 });

buildChart('aziChart', [
  { data: toXY(aziPoints.concat(aziScatter)), pointRadius: 1.8, pointBackgroundColor: 'rgb(255,20,20)', pointBorderWidth: 0 }
], -21, 18.5, aziTicks, { left: 57, right: 569, top: 29, bottom: 100, canvasH: 160, tickPad: 8, titlePad: 8 });
</script>
</body>
</html>
